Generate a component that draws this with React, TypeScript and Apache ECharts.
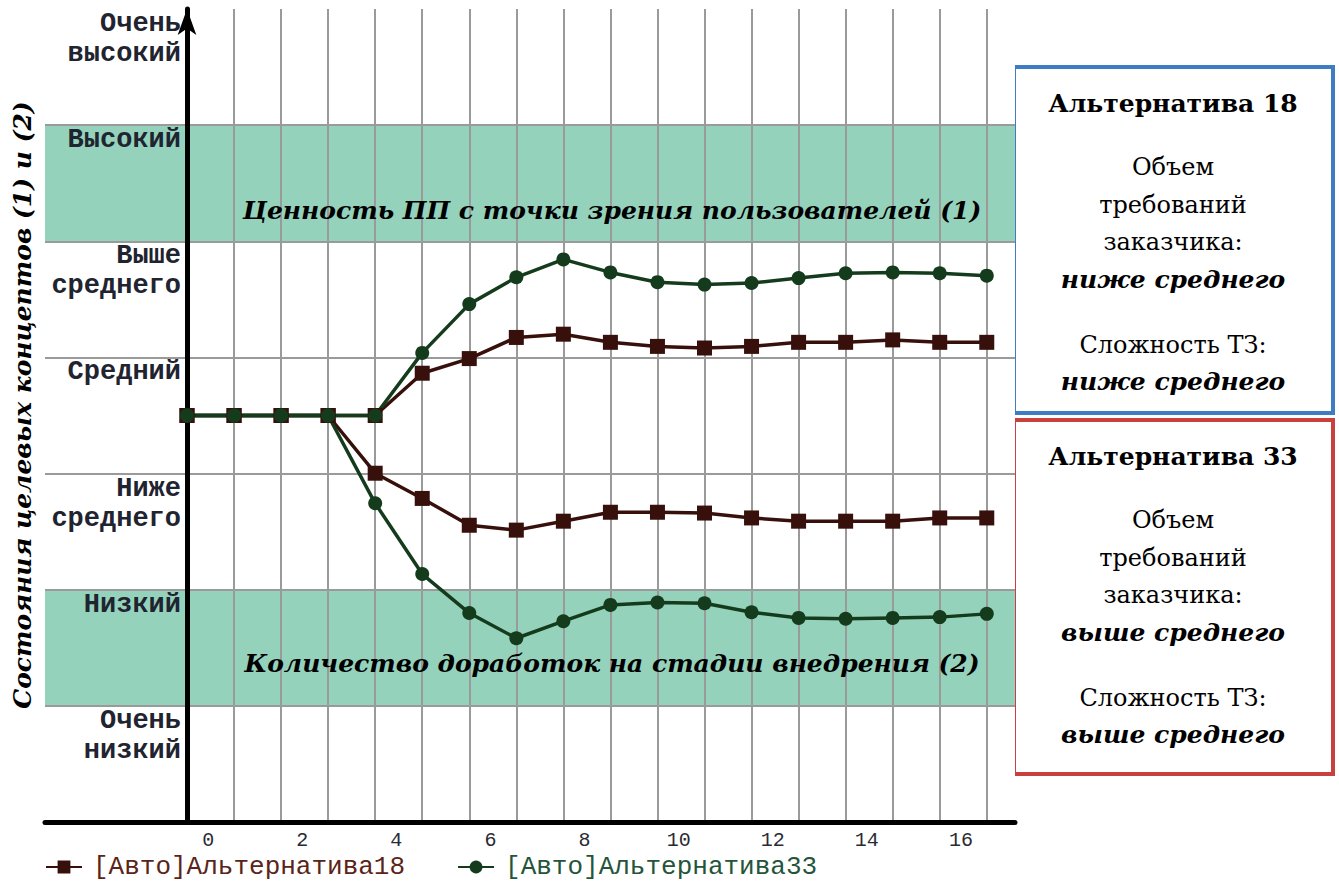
import React, { useEffect, useRef } from "react";
import * as echarts from "echarts";

// ---- data ----
const steps = [0, 1, 2, 3, 4, 5, 6, 7, 8, 9, 10, 11, 12, 13, 14, 15, 16, 17];
// concept (1): value for users
const alt18Value = [0.5, 0.5, 0.5, 0.5, 0.5, 0.552, 0.57, 0.596, 0.6, 0.59, 0.585, 0.583, 0.585, 0.59, 0.59, 0.593, 0.59, 0.59];
const alt33Value = [0.5, 0.5, 0.5, 0.5, 0.5, 0.577, 0.637, 0.67, 0.692, 0.676, 0.664, 0.661, 0.663, 0.669, 0.675, 0.676, 0.675, 0.672];
// concept (2): number of reworks
const alt18Rework = [0.5, 0.5, 0.5, 0.5, 0.429, 0.398, 0.365, 0.359, 0.37, 0.381, 0.381, 0.38, 0.374, 0.37, 0.37, 0.37, 0.374, 0.374];
const alt33Rework = [0.5, 0.5, 0.5, 0.5, 0.392, 0.305, 0.257, 0.226, 0.247, 0.267, 0.27, 0.269, 0.258, 0.251, 0.25, 0.251, 0.252, 0.256];

const stateLabels = ["Очень\nнизкий", "Низкий", "Ниже\nсреднего", "Средний", "Выше\nсреднего", "Высокий", "Очень\nвысокий"];
const bandColors = ["#ffffff", "#94d2bc", "#ffffff", "#ffffff", "#ffffff", "#94d2bc", "#ffffff"];
const xTickLabels = [0, 2, 4, 6, 8, 10, 12, 14, 16];
const legendNames = ["[Авто]Альтернатива18", "[Авто]Альтернатива33"];
const bandTitles = ["Ценность ПП с точки зрения пользователей (1)", "Количество доработок на стадии внедрения (2)"];
const yTitle = "Состояния целевых концептов (1) и (2)";
const xTitle = "Такты моделирования";

const box18 = { title: "Альтернатива 18", volume: "ниже среднего", complexity: "ниже среднего" };
const box33 = { title: "Альтернатива 33", volume: "выше среднего", complexity: "выше среднего" };

const STATES = stateLabels.length; // axis in band units
const LABEL_SHIFT = 0.45;

const BROWN = "#37100c";
const GREEN = "#143c1c";
const SERIF = "'DejaVu Serif', serif";
const MONO = "'Liberation Mono', monospace";

const toPairs = (vals: number[]) => steps.map((s, i) => [s, vals[i] * STATES]);

function boxTexts(b: typeof box18, top: number) {
  const cx = 1173;
  const t = (text: string, y: number, font: any) => ({
    type: "text",
    x: cx,
    y,
    style: { text, textAlign: "center", textVerticalAlign: "middle", fill: "#000", fontFamily: SERIF, ...font },
  });
  const normal = { fontSize: 24 };
  const bi = { fontSize: 25, fontWeight: "bold", fontStyle: "italic" };
  return [
    t(b.title, top + 36, { fontSize: 25, fontWeight: "bold" }),
    t("Объем", top + 100, normal),
    t("требований", top + 138, normal),
    t("заказчика:", top + 175, normal),
    t(b.volume, top + 212, bi),
    t("Сложность ТЗ:", top + 278, normal),
    t(b.complexity, top + 314, bi),
  ];
}

export default function App() {
  const ref = useRef<HTMLDivElement>(null);
  useEffect(() => {
    if (!ref.current) return;
    const chart = echarts.init(ref.current, null, { renderer: "svg" });
    const gridPos = { right: 324, top: 9, bottom: 61 };
    const lineSeries = (name: string, vals: number[], color: string, symbol: string, size: number, extra: any = {}) => ({
      type: "line",
      name,
      xAxisIndex: 1,
      yAxisIndex: 1,
      data: toPairs(vals),
      symbol,
      symbolSize: size,
      lineStyle: { color, width: 3.5 },
      itemStyle: { color, borderWidth: 0 },
      ...extra,
    });
    chart.setOption({
      animation: false,
      textStyle: { fontFamily: MONO },
      grid: [
        { left: 45, ...gridPos },
        { left: 187, ...gridPos },
      ],
      xAxis: [
        {
          type: "value",
          gridIndex: 0,
          min: 0,
          max: 1,
          axisLine: { show: true, lineStyle: { color: "#000", width: 5 } },
          axisTick: { show: false },
          axisLabel: { show: false },
          splitLine: { show: false },
        },
        {
          type: "value",
          gridIndex: 1,
          min: 0,
          max: 17.6,
          interval: 1,
          axisLine: { show: false },
          axisTick: { show: false },
          splitLine: { show: true, showMinLine: false, showMaxLine: false, lineStyle: { color: "#9a9a9a", width: 2 } },
          axisLabel: {
            customValues: xTickLabels.map((v) => v + LABEL_SHIFT),
            formatter: (v: number) => String(Math.round(v - LABEL_SHIFT)),
            fontFamily: MONO,
            fontSize: 20,
            color: "#2a2a33",
            margin: 8,
          },
        },
      ],
      yAxis: [
        {
          type: "value",
          gridIndex: 0,
          min: 0,
          max: STATES,
          interval: 1,
          axisLine: { show: false },
          axisTick: { show: false },
          axisLabel: { show: false },
          splitArea: { show: true, areaStyle: { color: bandColors } },
          splitLine: { show: true, showMinLine: false, showMaxLine: false, lineStyle: { color: "#9a9a9a", width: 2 } },
        },
        {
          type: "value",
          gridIndex: 1,
          min: 0,
          max: STATES,
          interval: 1,
          axisLine: { show: true, symbol: ["none", "arrow"], symbolSize: [14, 26], lineStyle: { color: "#000", width: 5 } },
          axisTick: { show: false },
          splitLine: { show: false },
          axisLabel: {
            formatter: (v: number) => {
              const k = Math.round(v);
              return k >= 1 ? stateLabels[k - 1] : "";
            },
            verticalAlign: "top",
            align: "right",
            margin: 6,
            fontFamily: MONO,
            fontWeight: "bold",
            fontSize: 27,
            lineHeight: 30,
            color: "#1f2430",
          },
        },
      ],
      legend: {
        left: 45,
        top: 854,
        padding: 0,
        itemWidth: 36,
        itemHeight: 16,
        itemGap: 52,
        textStyle: { fontFamily: MONO, fontSize: 26, padding: [0, 0, 0, 6] },
        data: [
          { name: legendNames[0], textStyle: { color: "#5a2418" } },
          { name: legendNames[1], textStyle: { color: "#24553a" } },
        ],
      },
      series: [
        lineSeries(legendNames[0], alt18Value, BROWN, "rect", 15, {
          markArea: {
            silent: true,
            itemStyle: { color: "rgba(0,0,0,0)" },
            label: {
              position: "inside",
              fontFamily: SERIF,
              fontWeight: "bold",
              fontStyle: "italic",
              fontSize: 25,
              color: "#000",
            },
            data: [
              [{ yAxis: 5, label: { offset: [11, 27] }, name: bandTitles[0] }, { yAxis: 6 }],
              [{ yAxis: 1, label: { offset: [11, 16] }, name: bandTitles[1] }, { yAxis: 2 }],
            ],
          },
        }),
        lineSeries(legendNames[0], alt18Rework, BROWN, "rect", 15),
        lineSeries(legendNames[1], alt33Value, GREEN, "circle", 14),
        lineSeries(legendNames[1], alt33Rework, GREEN, "circle", 14),
      ],
      graphic: [
        {
          type: "text",
          x: 22,
          y: 405,
          rotation: Math.PI / 2,
          style: {
            text: yTitle,
            textAlign: "center",
            textVerticalAlign: "middle",
            fontFamily: SERIF,
            fontWeight: "bold",
            fontStyle: "italic",
            fontSize: 25,
            fill: "#000",
          },
        },
        {
          type: "text",
          x: 610,
          y: 800,
          style: { text: xTitle, textAlign: "center", textVerticalAlign: "middle", fontFamily: SERIF, fontStyle: "italic", fontSize: 23, fill: "#000" },
        },
        { type: "text", x: 213, y: 35, style: { text: "1", textAlign: "center", textVerticalAlign: "middle", fontFamily: SERIF, fontSize: 20, fill: "#000" } },
        { type: "text", x: 210, y: 792, style: { text: "0", textAlign: "center", textVerticalAlign: "middle", fontFamily: SERIF, fontSize: 20, fill: "#000" } },
        { type: "rect", shape: { x: 1014, y: 67, width: 319, height: 346 }, style: { fill: "#fff", stroke: "#3e7cc4", lineWidth: 4 } },
        { type: "rect", shape: { x: 1014, y: 420, width: 319, height: 354 }, style: { fill: "#fff", stroke: "#c9413f", lineWidth: 4 } },
        ...boxTexts(box18, 67),
        ...boxTexts(box33, 420),
      ],
    });
    return () => chart.dispose();
  }, []);
  return <div ref={ref} style={{ width: 1339, height: 883, position: "absolute", left: 0, top: 0 }} />;
}
